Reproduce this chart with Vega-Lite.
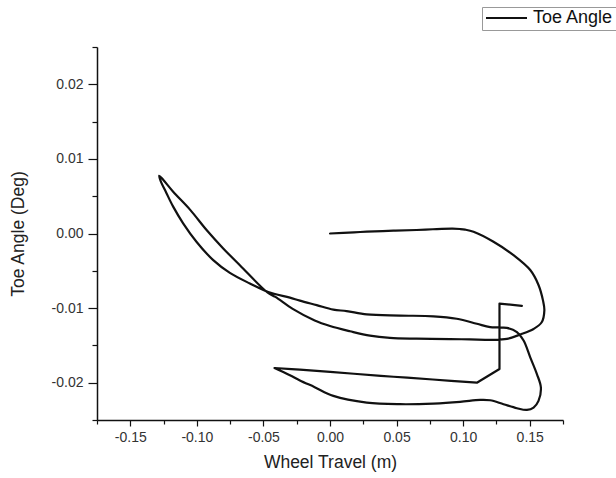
{
  "$schema": "https://vega.github.io/schema/vega-lite/v6.json",
  "width": 466,
  "height": 373,
  "autosize": {"type": "none"},
  "padding": {"left": 97, "top": 47, "right": 53, "bottom": 58},
  "background": "white",
  "config": {"view": {"stroke": null}, "font": "Liberation Sans"},
  "data": {
    "values": [
      {"travel": 0.0, "toe": 0.0},
      {"travel": 0.0, "toe": 0.0},
      {"travel": 0.018, "toe": 0.00016},
      {"travel": 0.0276, "toe": 0.00024},
      {"travel": 0.0477, "toe": 0.00038},
      {"travel": 0.065, "toe": 0.00047},
      {"travel": 0.0772, "toe": 0.00057},
      {"travel": 0.092, "toe": 0.00065},
      {"travel": 0.0977, "toe": 0.0006},
      {"travel": 0.1015, "toe": 0.00052},
      {"travel": 0.1078, "toe": 0.00024},
      {"travel": 0.1228, "toe": -0.0011},
      {"travel": 0.1378, "toe": -0.0029},
      {"travel": 0.1504, "toe": -0.0049},
      {"travel": 0.1566, "toe": -0.0069},
      {"travel": 0.16, "toe": -0.009},
      {"travel": 0.161, "toe": -0.0103},
      {"travel": 0.159, "toe": -0.0119},
      {"travel": 0.1529, "toe": -0.0128},
      {"travel": 0.1429, "toe": -0.01354},
      {"travel": 0.1328, "toe": -0.01413},
      {"travel": 0.1228, "toe": -0.01426},
      {"travel": 0.105, "toe": -0.0142},
      {"travel": 0.09, "toe": -0.01415},
      {"travel": 0.065, "toe": -0.0141},
      {"travel": 0.045, "toe": -0.014},
      {"travel": 0.03, "toe": -0.0137},
      {"travel": 0.015, "toe": -0.0131},
      {"travel": 0.0, "toe": -0.0124},
      {"travel": -0.0115, "toe": -0.01166},
      {"travel": -0.028, "toe": -0.0101},
      {"travel": -0.041, "toe": -0.0085},
      {"travel": -0.047, "toe": -0.0079},
      {"travel": -0.0677, "toe": -0.00425},
      {"travel": -0.0802, "toe": -0.002},
      {"travel": -0.0927, "toe": 0.00047},
      {"travel": -0.105, "toe": 0.00317},
      {"travel": -0.1178, "toe": 0.0056},
      {"travel": -0.1253, "toe": 0.0072},
      {"travel": -0.1283, "toe": 0.00775},
      {"travel": -0.1273, "toe": 0.0071},
      {"travel": -0.1228, "toe": 0.0054},
      {"travel": -0.1178, "toe": 0.0036},
      {"travel": -0.1103, "toe": 0.00137},
      {"travel": -0.1003, "toe": -0.0011},
      {"travel": -0.0877, "toe": -0.00357},
      {"travel": -0.0752, "toe": -0.00528},
      {"travel": -0.0602, "toe": -0.0067},
      {"travel": -0.0464, "toe": -0.00784},
      {"travel": -0.0301, "toe": -0.0086},
      {"travel": -0.0226, "toe": -0.009},
      {"travel": -0.01, "toe": -0.0096},
      {"travel": 0.0025, "toe": -0.0102},
      {"travel": 0.0125, "toe": -0.0104},
      {"travel": 0.0276, "toe": -0.01085},
      {"travel": 0.0526, "toe": -0.011},
      {"travel": 0.0777, "toe": -0.0111},
      {"travel": 0.0952, "toe": -0.01143},
      {"travel": 0.1103, "toe": -0.0121},
      {"travel": 0.1203, "toe": -0.01256},
      {"travel": 0.1328, "toe": -0.01265},
      {"travel": 0.1404, "toe": -0.01323},
      {"travel": 0.1454, "toe": -0.01435},
      {"travel": 0.1504, "toe": -0.0166},
      {"travel": 0.1554, "toe": -0.01884},
      {"travel": 0.1584, "toe": -0.02065},
      {"travel": 0.1566, "toe": -0.02244},
      {"travel": 0.1529, "toe": -0.02334},
      {"travel": 0.1479, "toe": -0.02365},
      {"travel": 0.1404, "toe": -0.02342},
      {"travel": 0.1303, "toe": -0.02288},
      {"travel": 0.1203, "toe": -0.02235},
      {"travel": 0.1128, "toe": -0.0223},
      {"travel": 0.0977, "toe": -0.02257},
      {"travel": 0.0777, "toe": -0.0228},
      {"travel": 0.0526, "toe": -0.02288},
      {"travel": 0.0276, "toe": -0.02267},
      {"travel": 0.0025, "toe": -0.02177},
      {"travel": -0.0115, "toe": -0.0206},
      {"travel": -0.0226, "toe": -0.0197},
      {"travel": -0.0301, "toe": -0.019},
      {"travel": -0.0417, "toe": -0.01803},
      {"travel": -0.0417, "toe": -0.01803},
      {"travel": -0.0226, "toe": -0.01825},
      {"travel": 0.018, "toe": -0.0188},
      {"travel": 0.0477, "toe": -0.0192},
      {"travel": 0.0772, "toe": -0.01957},
      {"travel": 0.1103, "toe": -0.02},
      {"travel": 0.1103, "toe": -0.02},
      {"travel": 0.1273, "toe": -0.01817},
      {"travel": 0.1273, "toe": -0.01817},
      {"travel": 0.1273, "toe": -0.0094},
      {"travel": 0.1273, "toe": -0.0094},
      {"travel": 0.1441, "toe": -0.0097},
      {"travel": 0.1441, "toe": -0.0097}
    ]
  },
  "mark": {"type": "line", "strokeWidth": 2.2, "interpolate": "catmull-rom", "strokeJoin": "round", "strokeCap": "round"},
  "encoding": {
    "x": {
      "field": "travel",
      "type": "quantitative",
      "title": "Wheel Travel (m)",
      "scale": {"domain": [-0.175, 0.175], "nice": false, "zero": false},
      "axis": {
        "values": [-0.175, -0.15, -0.125, -0.1, -0.075, -0.05, -0.025, 0, 0.025, 0.05, 0.075, 0.1, 0.125, 0.15, 0.175],
        "labelExpr": "abs(round(datum.value*20)-datum.value*20)<0.001 ? (datum.value < -0.0001 ? '-' : '') + format(abs(datum.value), '.2f') : ''",
        "tickSize": {"condition": {"test": "abs(round(datum.value*20)-datum.value*20)<0.001", "value": 6}, "value": 4},
        "grid": false,
        "domainColor": "#111111",
        "domainWidth": 1.5,
        "tickColor": "#111111",
        "tickWidth": 1.2,
        "labelFontSize": 14,
        "labelColor": "#333333",
        "labelPadding": 4,
        "labelFlush": false,
        "labelOverlap": false,
        "titleFontSize": 17.5,
        "titleFontWeight": "normal",
        "titleColor": "#222222",
        "titlePadding": 9
      }
    },
    "y": {
      "field": "toe",
      "type": "quantitative",
      "title": "Toe Angle (Deg)",
      "scale": {"domain": [-0.025, 0.025], "nice": false, "zero": false},
      "axis": {
        "values": [-0.025, -0.02, -0.015, -0.01, -0.005, 0, 0.005, 0.01, 0.015, 0.02, 0.025],
        "labelExpr": "abs(round(datum.value*100)-datum.value*100)<0.001 && abs(datum.value) < 0.024 ? (datum.value < -0.0001 ? '-' : '') + format(abs(datum.value), '.2f') : ''",
        "tickSize": {"condition": {"test": "abs(round(datum.value*100)-datum.value*100)<0.001", "value": 9}, "value": 5},
        "grid": false,
        "domainColor": "#111111",
        "domainWidth": 1.5,
        "tickColor": "#111111",
        "tickWidth": 1.2,
        "labelFontSize": 14,
        "labelColor": "#333333",
        "labelPadding": 5,
        "labelFlush": false,
        "labelOverlap": false,
        "titleFontSize": 17.5,
        "titleFontWeight": "normal",
        "titleColor": "#222222",
        "titlePadding": 24
      }
    },
    "color": {
      "datum": "Toe Angle",
      "scale": {"range": ["#111111"]},
      "legend": {
        "orient": "none",
        "legendX": 385,
        "legendY": -40,
        "title": null,
        "symbolType": "stroke",
        "symbolSize": 1681,
        "symbolStrokeWidth": 2,
        "clipHeight": 16,
        "labelFontSize": 18,
        "labelColor": "#111111",
        "labelOffset": 5,
        "labelLimit": 300,
        "padding": 3,
        "strokeColor": "#999999",
        "fillColor": "white",
        "cornerRadius": 0
      }
    },
    "order": {"value": null}
  }
}
